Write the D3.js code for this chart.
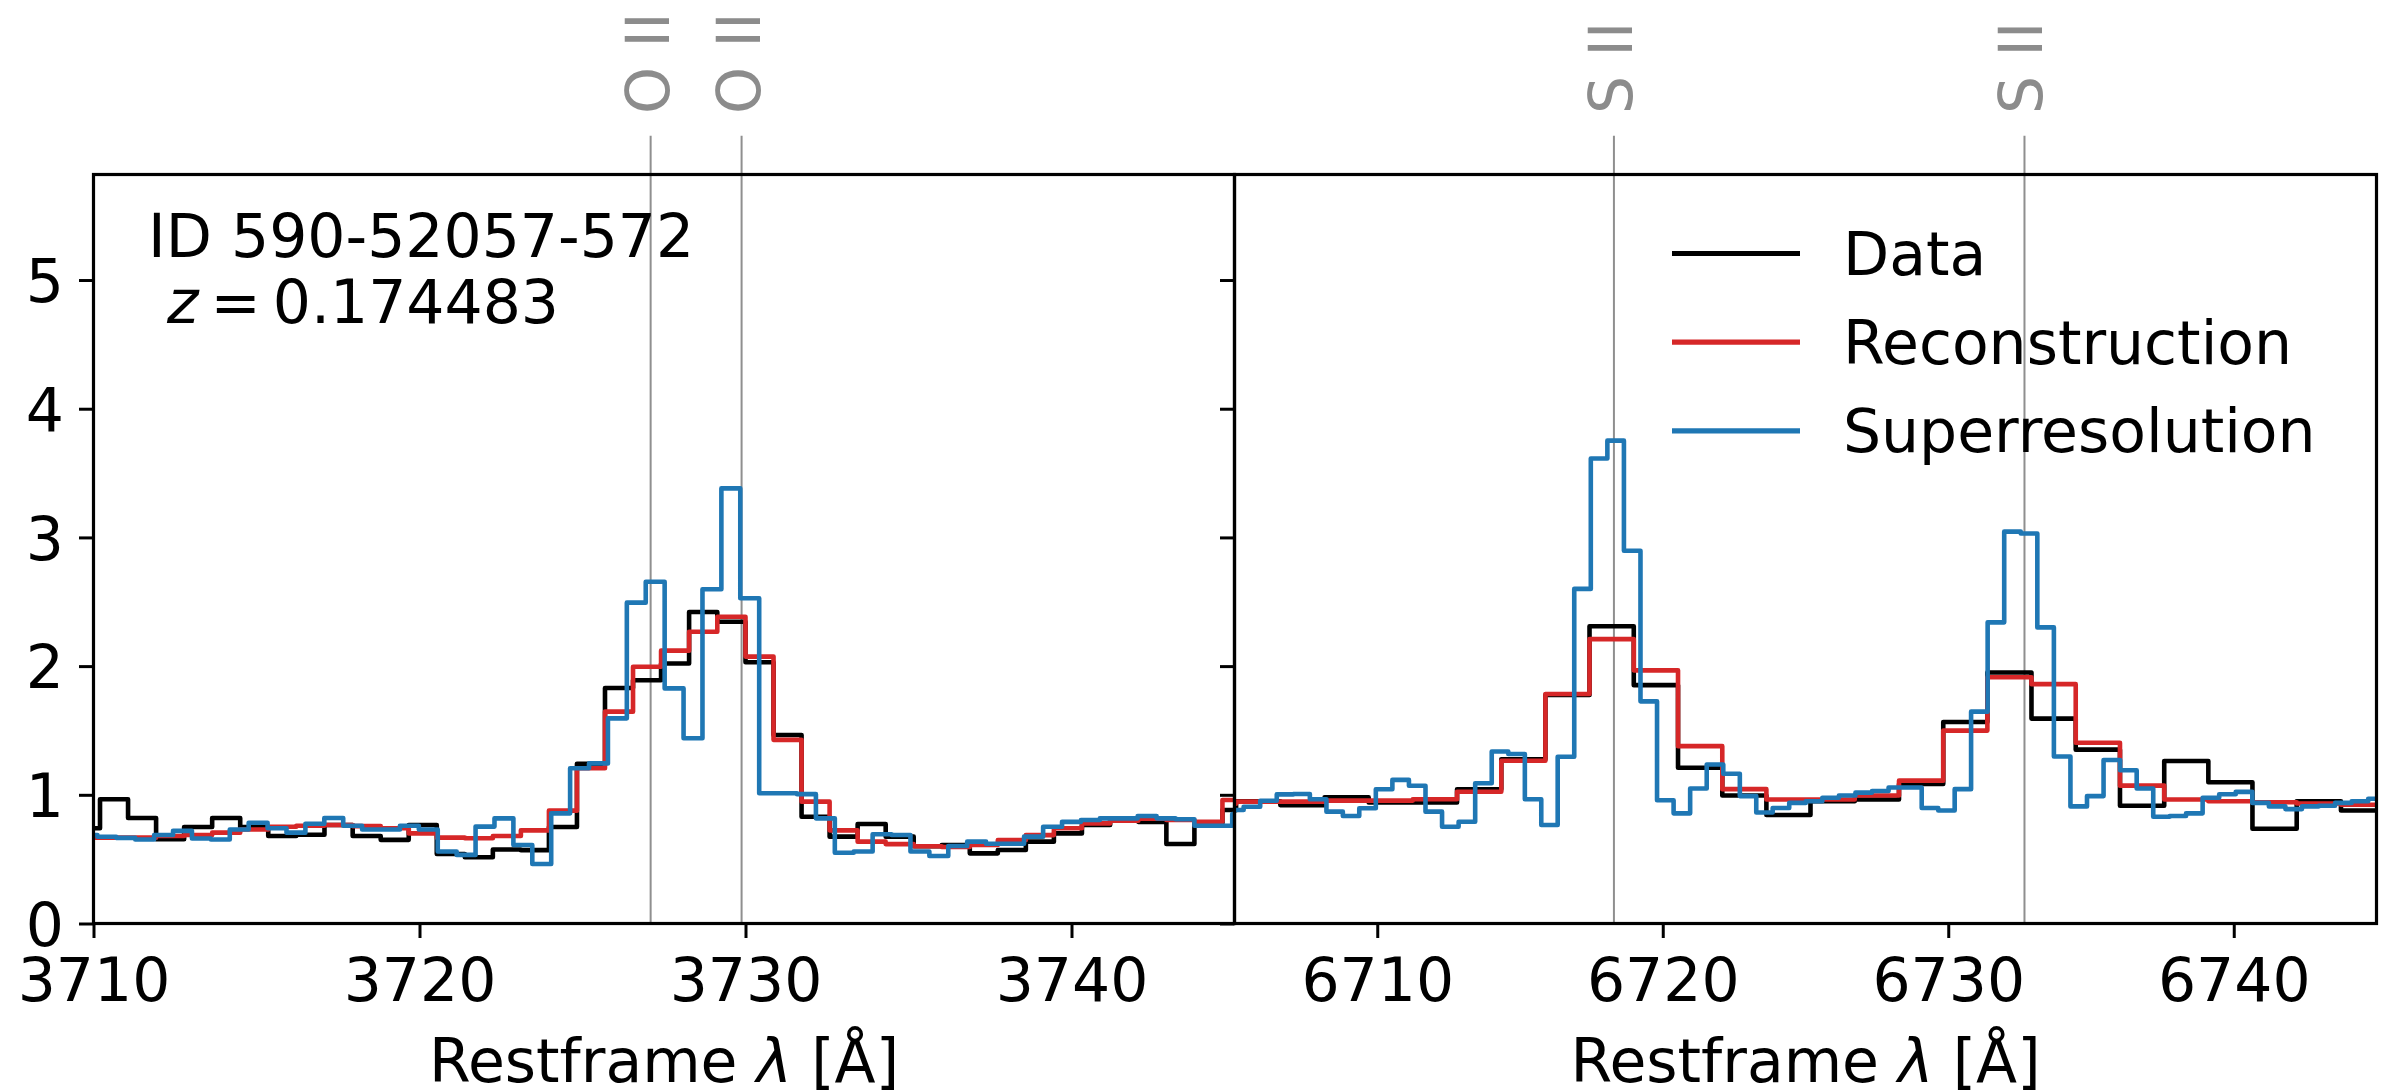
<!DOCTYPE html>
<html lang="en">
<head>
<meta charset="UTF-8"/>
<title>Superresolution spectrum: O II and S II windows</title>
<script src="https://d3js.org/d3.v7.min.js"></script>
<style>
  body { margin: 0; background: #fff; }
  svg { display: block; font-family: "DejaVu Sans", sans-serif; }
</style>
</head>
<body>
<script>
var w = 2390;
var h = 1091;

// ---- O II window (left panel) ----
var oiiDataWave = [3709.77, 3710.63, 3711.49, 3712.35, 3713.21, 3714.07, 3714.93, 3715.79, 3716.65, 3717.52,
                   3718.38, 3719.24, 3720.10, 3720.96, 3721.82, 3722.68, 3723.54, 3724.40, 3725.26, 3726.12,
                   3726.98, 3727.84, 3728.70, 3729.57, 3730.43, 3731.29, 3732.15, 3733.01, 3733.87, 3734.73,
                   3735.59, 3736.45, 3737.31, 3738.17, 3739.03, 3739.89, 3740.75, 3741.62, 3742.48, 3743.34,
                   3744.20, 3745.06];
var oiiDataFlux = [0.74, 0.965, 0.82, 0.655, 0.75, 0.82, 0.75, 0.68, 0.69, 0.765,
                   0.68, 0.65, 0.765, 0.54, 0.515, 0.575, 0.57, 0.75, 1.24, 1.83,
                   1.89, 2.02, 2.42, 2.345, 2.03, 1.465, 0.83, 0.675, 0.773, 0.675,
                   0.60, 0.61, 0.545, 0.571, 0.636, 0.70, 0.765, 0.817, 0.79, 0.618,
                   0.78, 0.882];
var oiiReconFlux = [0.667, 0.667, 0.667, 0.68, 0.688, 0.706, 0.73, 0.752, 0.76, 0.765,
                    0.757, 0.74, 0.70, 0.667, 0.662, 0.68, 0.724, 0.877, 1.206, 1.646,
                    1.995, 2.12, 2.267, 2.384, 2.074, 1.427, 0.947, 0.724, 0.636, 0.617,
                    0.60, 0.594, 0.61, 0.648, 0.687, 0.74, 0.778, 0.799, 0.815, 0.804,
                    0.79, 0.96];
var oiiSuperWave = [3709.83, 3710.41, 3710.99, 3711.57, 3712.15, 3712.73, 3713.31, 3713.89, 3714.47, 3715.05,
                    3715.63, 3716.21, 3716.79, 3717.37, 3717.95, 3718.53, 3719.11, 3719.69, 3720.27, 3720.85,
                    3721.43, 3722.01, 3722.59, 3723.17, 3723.75, 3724.33, 3724.91, 3725.49, 3726.07, 3726.65,
                    3727.23, 3727.81, 3728.39, 3728.97, 3729.55, 3730.13, 3730.71, 3731.29, 3731.87, 3732.45,
                    3733.03, 3733.61, 3734.19, 3734.77, 3735.35, 3735.93, 3736.51, 3737.09, 3737.67, 3738.25,
                    3738.84, 3739.42, 3740.00, 3740.58, 3741.16, 3741.74, 3742.32, 3742.90, 3743.48, 3744.06,
                    3744.64, 3745.22, 3745.80];
var oiiSuperFlux = [0.688, 0.674, 0.665, 0.653, 0.688, 0.72, 0.66, 0.653, 0.73, 0.783,
                    0.74, 0.706, 0.775, 0.82, 0.76, 0.73, 0.73, 0.76, 0.73, 0.56,
                    0.533, 0.753, 0.817, 0.61, 0.462, 0.856, 1.206, 1.244, 1.594, 2.493,
                    2.656, 1.827, 1.439, 2.597, 3.381, 2.527, 1.012, 1.012, 1.005, 0.817,
                    0.55, 0.56, 0.693, 0.688, 0.56, 0.525, 0.602, 0.636, 0.62, 0.62,
                    0.675, 0.752, 0.79, 0.804, 0.817, 0.817, 0.835, 0.817, 0.81, 0.76,
                    0.76, 0.85, 0.85];

// ---- S II window (right panel) ----
var siiDataWave = [6704.28, 6705.83, 6707.38, 6708.93, 6710.47, 6712.02, 6713.57, 6715.12, 6716.66, 6718.21,
                   6719.76, 6721.31, 6722.86, 6724.40, 6725.95, 6727.50, 6729.05, 6730.60, 6732.14, 6733.69,
                   6735.24, 6736.79, 6738.34, 6739.88, 6741.43, 6742.98, 6744.53, 6746.08];
var siiDataFlux = [0.88, 0.95, 0.92, 0.98, 0.94, 0.94, 1.043, 1.276, 1.775, 2.31,
                   1.852, 1.21, 0.995, 0.843, 0.95, 0.963, 1.084, 1.566, 1.95, 1.592,
                   1.351, 0.915, 1.263, 1.097, 0.736, 0.95, 0.878, 0.878];
var siiReconFlux = [0.93, 0.947, 0.947, 0.955, 0.955, 0.965, 1.024, 1.265, 1.783, 2.21,
                    1.967, 1.378, 1.044, 0.963, 0.963, 0.995, 1.11, 1.499, 1.914, 1.86,
                    1.405, 1.071, 0.963, 0.95, 0.942, 0.932, 0.923, 0.92];
var siiSuperWave = [6705.03, 6705.61, 6706.19, 6706.77, 6707.35, 6707.93, 6708.51, 6709.08, 6709.66, 6710.24,
                    6710.82, 6711.40, 6711.98, 6712.56, 6713.14, 6713.72, 6714.30, 6714.88, 6715.46, 6716.03,
                    6716.61, 6717.19, 6717.77, 6718.35, 6718.93, 6719.51, 6720.09, 6720.67, 6721.25, 6721.83,
                    6722.41, 6722.99, 6723.56, 6724.14, 6724.72, 6725.30, 6725.88, 6726.46, 6727.04, 6727.62,
                    6728.20, 6728.78, 6729.36, 6729.94, 6730.51, 6731.09, 6731.67, 6732.25, 6732.83, 6733.41,
                    6733.99, 6734.57, 6735.15, 6735.73, 6736.31, 6736.89, 6737.47, 6738.04, 6738.62, 6739.20,
                    6739.78, 6740.36, 6740.94, 6741.52, 6742.10, 6742.68, 6743.26, 6743.84, 6744.42, 6745.00];
var siiSuperFlux = [0.882, 0.907, 0.954, 1.003, 1.006, 0.965, 0.869, 0.835, 0.895, 1.043,
                    1.116, 1.07, 0.869, 0.752, 0.791, 1.09, 1.336, 1.317, 0.965, 0.765,
                    1.296, 2.60, 3.613, 3.752, 2.896, 1.726, 0.958, 0.856, 1.049, 1.236,
                    1.164, 0.99, 0.862, 0.897, 0.937, 0.95, 0.977, 0.995, 1.017, 1.03,
                    1.057, 1.057, 0.897, 0.878, 1.044, 1.646, 2.34, 3.045, 3.03, 2.301,
                    1.298, 0.91, 0.99, 1.271, 1.191, 1.049, 0.83, 0.835, 0.856, 0.977,
                    1.004, 1.023, 0.937, 0.91, 0.889, 0.91, 0.915, 0.937, 0.95, 0.969];

// emission lines and ticks
var oiiLines = [3727.09, 3729.88];
var siiLines = [6718.29, 6732.67];
var oiiLabel = "O II";
var siiLabel = "S II";
var oiiTicks = [3710, 3720, 3730, 3740];
var siiTicks = [6710, 6720, 6730, 6740];
var yTicks = [0, 1, 2, 3, 4, 5];
var seriesNames = ["Data", "Reconstruction", "Superresolution"];
var seriesColors = ["#000000", "#d62728", "#1f77b4"];

// layout (note: "top" is a reserved window property, so plotTop)
var plotTop = 174.5, plotBottom = 923.5;
var fontSize = 60;
var lineW = 4.6;

var yScale = d3.scaleLinear()
               .domain([0, 5.82])
               .range([plotBottom, plotTop]);

var svg = d3.select("body")
            .append("svg")
            .attr("width", w)
            .attr("height", h);

svg.append("rect").attr("width", w).attr("height", h).attr("fill", "#fff");

function drawPanel(p) {
    var xScale = d3.scaleLinear()
                   .domain(p.domain)
                   .range([p.left, p.right]);

    var clipId = "clip-" + p.name;
    svg.append("clipPath")
       .attr("id", clipId)
       .append("rect")
       .attr("x", p.left)
       .attr("y", plotTop)
       .attr("width", p.right - p.left)
       .attr("height", plotBottom - plotTop);

    //marker lines for the emission lines, they stick out above the frame
    svg.selectAll("line.mark-" + p.name)
       .data(p.lines)
       .enter()
       .append("line")
       .attr("class", "mark-" + p.name)
       .attr("x1", function(d) { return xScale(d); })
       .attr("x2", function(d) { return xScale(d); })
       .attr("y1", 135.7)
       .attr("y2", plotBottom)
       .attr("stroke", "#8f8f8f")
       .attr("stroke-width", 2);

    svg.selectAll("text.mark-" + p.name)
       .data(p.lines)
       .enter()
       .append("text")
       .attr("class", "mark-" + p.name)
       .attr("transform", function(d) {
           return "translate(" + (xScale(d) + 18) + ",114) rotate(-90)";
       })
       .attr("font-size", fontSize)
       .attr("fill", "#8c8c8c")
       .text(p.label);

    var line = d3.line()
                 .curve(d3.curveStep)   // same as matplotlib step(where='mid')
                 .x(function(d) { return xScale(d[0]); })
                 .y(function(d) { return yScale(d[1]); });

    var series = [
        d3.zip(p.dataWave, p.dataFlux),
        d3.zip(p.dataWave, p.reconFlux),
        d3.zip(p.superWave, p.superFlux)
    ];

    svg.append("g")
       .attr("clip-path", "url(#" + clipId + ")")
       .selectAll("path")
       .data(series)
       .enter()
       .append("path")
       .attr("d", line)
       .attr("fill", "none")
       .attr("stroke", function(d, i) { return seriesColors[i]; })
       .attr("stroke-width", lineW)
       .attr("stroke-linejoin", "round");

    //x axis
    var xAxis = d3.axisBottom(xScale)
                  .tickValues(p.ticks)
                  .tickSize(14.5)
                  .tickSizeOuter(0)
                  .tickPadding(20)
                  .tickFormat(d3.format("d"));
    var gx = svg.append("g")
                .attr("transform", "translate(0," + plotBottom + ")")
                .call(xAxis);
    gx.select(".domain").remove();
    gx.selectAll("line").attr("stroke-width", 3);
    gx.selectAll("text")
      .attr("font-size", fontSize)
      .attr("font-family", "DejaVu Sans")
      .attr("fill", "#000");

    //y axis (labels only on the left panel)
    var yAxis = d3.axisLeft(yScale)
                  .tickValues(yTicks)
                  .tickSize(14.5)
                  .tickSizeOuter(0)
                  .tickPadding(15)
                  .tickFormat(p.yLabels ? d3.format("d") : "");
    var gy = svg.append("g")
                .attr("transform", "translate(" + p.left + ",0)")
                .call(yAxis);
    gy.select(".domain").remove();
    gy.selectAll("line").attr("stroke-width", 3);
    gy.selectAll("text")
      .attr("font-size", fontSize)
      .attr("font-family", "DejaVu Sans")
      .attr("dy", "0.36em")
      .attr("fill", "#000");

    //frame
    svg.append("rect")
       .attr("x", p.left)
       .attr("y", plotTop)
       .attr("width", p.right - p.left)
       .attr("height", plotBottom - plotTop)
       .attr("fill", "none")
       .attr("stroke", "#000")
       .attr("stroke-width", 3.2);

    //x label
    var lab = svg.append("text")
                 .attr("x", (p.left + p.right) / 2)
                 .attr("y", 1082)
                 .attr("text-anchor", "middle")
                 .attr("font-size", fontSize);
    lab.append("tspan").text("Restframe ");
    lab.append("tspan").attr("font-style", "italic").text("\u03bb");
    lab.append("tspan").text(" [\u00c5]");
}

drawPanel({
    name: "oii", domain: [3710, 3745], left: 93.5, right: 1234.5,
    dataWave: oiiDataWave, dataFlux: oiiDataFlux, reconFlux: oiiReconFlux,
    superWave: oiiSuperWave, superFlux: oiiSuperFlux,
    lines: oiiLines, label: oiiLabel, ticks: oiiTicks, yLabels: true
});

drawPanel({
    name: "sii", domain: [6705, 6745], left: 1234.5, right: 2376.5,
    dataWave: siiDataWave, dataFlux: siiDataFlux, reconFlux: siiReconFlux,
    superWave: siiSuperWave, superFlux: siiSuperFlux,
    lines: siiLines, label: siiLabel, ticks: siiTicks, yLabels: false
});

//object annotation
svg.append("text")
   .attr("x", 148)
   .attr("y", 257)
   .attr("font-size", fontSize)
   .text("ID 590-52057-572");
var zt = svg.append("text")
            .attr("x", 167)
            .attr("y", 323)
            .attr("font-size", fontSize);
zt.append("tspan").attr("font-style", "italic").text("z");
zt.append("tspan").text("\u2009=\u20090.174483");

//legend (no frame)
var legend = svg.selectAll("g.legend")
                .data(seriesNames)
                .enter()
                .append("g")
                .attr("class", "legend")
                .attr("transform", function(d, i) { return "translate(0," + (275 + i * 88.7) + ")"; });
legend.append("line")
      .attr("x1", 1672)
      .attr("x2", 1800)
      .attr("y1", -21.5)
      .attr("y2", -21.5)
      .attr("stroke", function(d, i) { return seriesColors[i]; })
      .attr("stroke-width", 5.2);
legend.append("text")
      .attr("x", 1843)
      .attr("y", 0)
      .attr("font-size", fontSize)
      .text(function(d) { return d; });
</script>
</body>
</html>
